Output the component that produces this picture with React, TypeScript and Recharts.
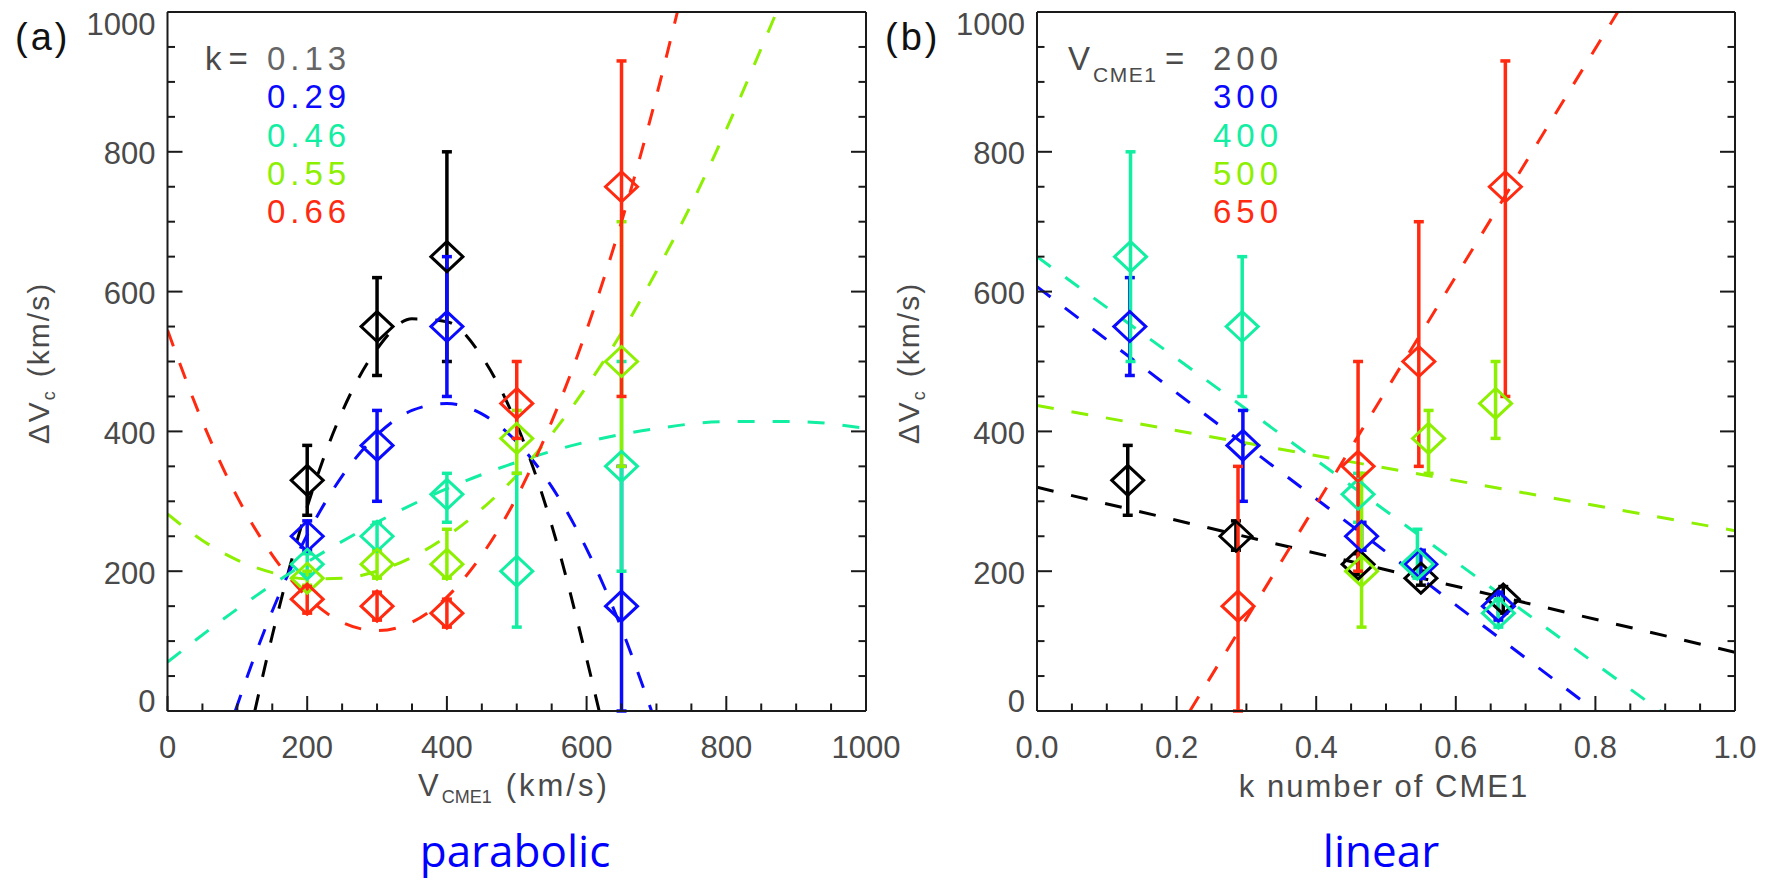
import React from "react";
import { ComposedChart, XAxis, YAxis, Line, Scatter, ErrorBar } from "recharts";

// ---- data ----

// V_CME1 (km/s) of the runs: x positions in panel (a)
const vCme1 = [200, 300, 400, 500, 650];
const vLabels = ["200", "300", "400", "500", "650"];
const kLabels = ["0.13", "0.29", "0.46", "0.55", "0.66"];

// ΔVc (km/s) with lower / upper error bound, one set per k, ordered like vCme1
const dvK013 = [330, 550, 650, null, null];
const loK013 = [280, 480, 500, null, null];
const hiK013 = [380, 620, 800, null, null];

const dvK029 = [250, 380, 550, null, 150];
const loK029 = [230, 300, 450, null, 0];
const hiK029 = [272, 430, 650, null, 350];

const dvK046 = [210, 250, 310, 200, 350];
const loK046 = [195, 230, 270, 120, 200];
const hiK046 = [225, 270, 340, 340, 500];

const dvK055 = [190, 210, 210, 390, 500];
const loK055 = [180, 190, 190, 340, 350];
const hiK055 = [200, 230, 260, 430, 700];

const dvK066 = [160, 150, 140, 440, 750];
const loK066 = [140, 130, 120, 390, 450];
const hiK066 = [178, 170, 160, 500, 930];

// measured k of each run: x positions in panel (b), ordered like kLabels
const kV200 = [0.13, 0.285, 0.46, 0.55, 0.668];
const kV300 = [0.133, 0.295, 0.465, 0.55, 0.661];
const kV400 = [0.134, 0.294, 0.46, 0.545, 0.661];
const kV500 = [null, null, 0.465, 0.561, 0.657];
const kV650 = [null, 0.288, 0.46, 0.547, 0.671];

// parabolic fits of panel (a): [V_CME1, ΔVc]
const fitA013 = [[125, 0], [150, 108], [175, 206], [200, 292], [250, 428], [300, 518], [350, 561], [400, 557], [450, 507], [500, 410], [550, 266], [600, 75], [618, 0]];
const fitA029 = [[97, 0], [125, 79], [150, 143], [200, 252], [250, 336], [300, 395], [350, 430], [400, 440], [450, 425], [500, 385], [550, 321], [600, 232], [650, 118], [693, 0]];
const fitA046 = [[0, 70], [100, 146], [200, 213], [300, 270], [400, 318], [500, 356], [600, 385], [700, 404], [800, 414], [900, 414], [1000, 404]];
const fitA055 = [[0, 282], [50, 244], [100, 216], [150, 198], [200, 189], [250, 190], [300, 200], [350, 220], [400, 250], [450, 289], [500, 337], [550, 396], [600, 464], [650, 541], [700, 629], [750, 725], [800, 832], [850, 948], [872, 1000]];
const fitA066 = [[0, 545], [50, 414], [100, 306], [150, 223], [200, 163], [250, 127], [300, 115], [350, 127], [400, 163], [450, 223], [500, 306], [550, 414], [600, 545], [650, 700], [700, 880], [730, 1000]];

// linear fits of panel (b): [k, ΔVc]
const fitB200 = [[0, 320], [1, 84]];
const fitB300 = [[0, 607], [0.8, 0]];
const fitB400 = [[0, 650], [0.893, 0]];
const fitB500 = [[0, 437], [1, 258]];
const fitB650 = [[0.219, 0], [0.832, 1000]];

const kmsTicks = [0, 50, 100, 150, 200, 250, 300, 350, 400, 450, 500, 550, 600, 650, 700, 750, 800, 850, 900, 950, 1000];
const kTicks = [0, 0.05, 0.1, 0.15, 0.2, 0.25, 0.3, 0.35, 0.4, 0.45, 0.5, 0.55, 0.6, 0.65, 0.7, 0.75, 0.8, 0.85, 0.9, 0.95, 1];

// ---- styling ----
const COLORS = ["#000000", "#0a0aff", "#12eea2", "#8cf000", "#ff2a10"];
const AXIS = "#1a1a1a";
const TXT = "#4a4a4a";
const FONT = "'Liberation Sans', Arial, sans-serif";
const DASH = "17 18";

const dvByK = [dvK013, dvK029, dvK046, dvK055, dvK066];
const loByK = [loK013, loK029, loK046, loK055, loK066];
const hiByK = [hiK013, hiK029, hiK046, hiK055, hiK066];
const kByV = [kV200, kV300, kV400, kV500, kV650];
const fitsA = [fitA013, fitA029, fitA046, fitA055, fitA066];
const fitsB = [fitB200, fitB300, fitB400, fitB500, fitB650];

const toPts = (arr: number[][]) => arr.map(([x, y]) => ({ x, y }));

function point(i: number, j: number, x: number) {
  const v = dvByK[i][j] as number;
  return { x, y: v, err: [v - (loByK[i][j] as number), (hiByK[i][j] as number) - v] };
}

// panel (a): one series per k, x = V_CME1
const seriesA = kLabels.map((_, i) =>
  vCme1.map((v, j) => (dvByK[i][j] == null ? null : point(i, j, v))).filter(Boolean)
);
// panel (b): one series per V_CME1, x = k
const seriesB = vCme1.map((_, j) =>
  kLabels.map((_, i) => (dvByK[i][j] == null ? null : point(i, j, kByV[j][i] as number))).filter(Boolean)
);

const diamond = (color: string) => (p: any) => {
  const { cx, cy } = p;
  if (cx == null || cy == null) return <g />;
  return (
    <polygon
      points={`${cx},${cy - 15} ${cx + 16},${cy} ${cx},${cy + 15} ${cx - 16},${cy}`}
      fill="none"
      stroke={color}
      strokeWidth={3}
    />
  );
};

type Side = "bottom" | "top" | "left" | "right";

function makeTick(side: Side, isMajor: (v: number) => boolean, fmt?: (v: number) => string) {
  return (p: any) => {
    const { x, y, payload } = p;
    const v = payload.value as number;
    const len = isMajor(v) ? 15 : 7.5;
    let x2 = x;
    let y2 = y;
    if (side === "bottom") y2 = y - len;
    if (side === "top") y2 = y + len;
    if (side === "left") x2 = x + len;
    if (side === "right") x2 = x - len;
    let label = null;
    if (fmt && isMajor(v)) {
      if (side === "bottom") {
        label = (
          <text x={x} y={y + 47} textAnchor="middle" fontSize={31} fontFamily={FONT} fill={TXT}>
            {fmt(v)}
          </text>
        );
      } else if (side === "left") {
        const shift = v === 1000 ? 12 : v === 0 ? -10 : 1.5;
        label = (
          <text x={x - 12} y={y + shift + 11} textAnchor="end" fontSize={31} fontFamily={FONT} fill={TXT}>
            {fmt(v)}
          </text>
        );
      }
    }
    return (
      <g>
        <line x1={x} y1={y} x2={x2} y2={y2} stroke={AXIS} strokeWidth={2} />
        {label}
      </g>
    );
  };
}

const majorKms = (v: number) => Math.round(v) % 200 === 0;
const majorK = (v: number) => Math.round(v * 100) % 20 === 0;
const fmtInt = (v: number) => String(v);
const fmtK = (v: number) => v.toFixed(1);

const axisStyle = { stroke: AXIS, strokeWidth: 2 };

function Panel({ xDomain, xTicks, isMajorX, fmtX, fits, series, margin, width }: any) {
  const common = { tickSize: 0, tickMargin: 0, tickLine: false, axisLine: axisStyle, interval: 0 as const, allowDataOverflow: true };
  return (
    <ComposedChart width={width} height={883} margin={margin}>
      <XAxis xAxisId="b" dataKey="x" type="number" domain={xDomain} ticks={xTicks} height={52} tick={makeTick("bottom", isMajorX, fmtX)} {...common} />
      <XAxis xAxisId="t" orientation="top" type="number" domain={xDomain} ticks={xTicks} height={1} tick={makeTick("top", isMajorX)} {...common} />
      <YAxis yAxisId="l" dataKey="y" type="number" domain={[0, 1000]} ticks={kmsTicks} width={60} tick={makeTick("left", majorKms, fmtInt)} {...common} />
      <YAxis yAxisId="r" orientation="right" type="number" domain={[0, 1000]} ticks={kmsTicks} width={1} tick={makeTick("right", majorKms)} {...common} />
      {fits.map((f: number[][], i: number) => (
        <Line
          key={"f" + i}
          data={toPts(f)}
          dataKey="y"
          xAxisId="b"
          yAxisId="l"
          type="monotone"
          stroke={COLORS[i]}
          strokeWidth={3}
          strokeDasharray={DASH}
          dot={false}
          activeDot={false}
          isAnimationActive={false}
        />
      ))}
      {series.map((s: any[], i: number) => (
        <Scatter key={"s" + i} data={s} dataKey="y" xAxisId="b" yAxisId="l" shape={diamond(COLORS[i])} isAnimationActive={false}>
          <ErrorBar dataKey="err" direction="y" width={5} stroke={COLORS[i]} strokeWidth={3.5} isAnimationActive={false} />
        </Scatter>
      ))}
    </ComposedChart>
  );
}

const rowsY = [70, 108, 147, 185, 223];
const LEG = 33;

function YTitle({ x }: { x: number }) {
  return (
    <text transform={`rotate(-90 ${x} 363)`} x={x} y={363} textAnchor="middle" fontSize={30} fontFamily={FONT} fill={TXT} letterSpacing={2}>
      ΔV<tspan fontSize={18} dy={6}>c</tspan>
      <tspan dy={-6} dx={12}>(km/s)</tspan>
    </text>
  );
}

export default function App() {
  return (
    <div style={{ position: "absolute", left: 0, top: 0, width: 1766, height: 883, background: "#fff" }}>
      <div style={{ position: "absolute", left: 0, top: 0 }}>
        <Panel
          width={900}
          xDomain={[0, 1000]}
          xTicks={kmsTicks}
          isMajorX={majorKms}
          fmtX={fmtInt}
          fits={fitsA}
          series={seriesA}
          margin={{ top: 11, right: 33, bottom: 120, left: 107.5 }}
        />
      </div>
      <div style={{ position: "absolute", left: 900, top: 0 }}>
        <Panel
          width={866}
          xDomain={[0, 1]}
          xTicks={kTicks}
          isMajorX={majorK}
          fmtX={fmtK}
          fits={fitsB}
          series={seriesB}
          margin={{ top: 11, right: 30, bottom: 120, left: 77 }}
        />
      </div>
      <svg width={1766} height={883} style={{ position: "absolute", left: 0, top: 0, pointerEvents: "none" }}>
        <text x={15} y={50} fontSize={38} fontFamily={FONT} fill="#111" letterSpacing={3}>(a)</text>
        <text x={885} y={50} fontSize={38} fontFamily={FONT} fill="#111" letterSpacing={3}>(b)</text>

        <text x={205} y={rowsY[0]} fontSize={LEG} fontFamily={FONT} fill={TXT} letterSpacing={7}>k=</text>
        {kLabels.map((t, i) => (
          <text key={t} x={267} y={rowsY[i]} fontSize={LEG} fontFamily={FONT} fill={i === 0 ? "#666" : COLORS[i]} letterSpacing={5}>{t}</text>
        ))}

        <text x={1068} y={rowsY[0]} fontSize={LEG} fontFamily={FONT} fill={TXT}>V</text>
        <text x={1093} y={82} fontSize={21} fontFamily={FONT} fill={TXT} letterSpacing={1.5}>CME1</text>
        <text x={1165} y={rowsY[0]} fontSize={LEG} fontFamily={FONT} fill={TXT} letterSpacing={4}>=</text>
        {vLabels.map((t, i) => (
          <text key={t} x={1213} y={rowsY[i]} fontSize={LEG} fontFamily={FONT} fill={i === 0 ? "#555" : COLORS[i]} letterSpacing={5}>{t}</text>
        ))}

        <text x={418} y={796} fontSize={31} fontFamily={FONT} fill={TXT} letterSpacing={3}>
          V<tspan fontSize={18} dy={7} letterSpacing={0}>CME1</tspan>
          <tspan dy={-7} dx={14}>(km/s)</tspan>
        </text>
        <text x={1384} y={797} textAnchor="middle" fontSize={31} fontFamily={FONT} fill={TXT} letterSpacing={2}>k number of CME1</text>

        <YTitle x={49} />
        <YTitle x={918.5} />

        <text x={515} y={867} textAnchor="middle" fontSize={44} fontFamily="'Open Sans', sans-serif" fill="#0000ff">parabolic</text>
        <text x={1381} y={867} textAnchor="middle" fontSize={44} fontFamily="'Open Sans', sans-serif" fill="#0000ff">linear</text>
      </svg>
    </div>
  );
}
